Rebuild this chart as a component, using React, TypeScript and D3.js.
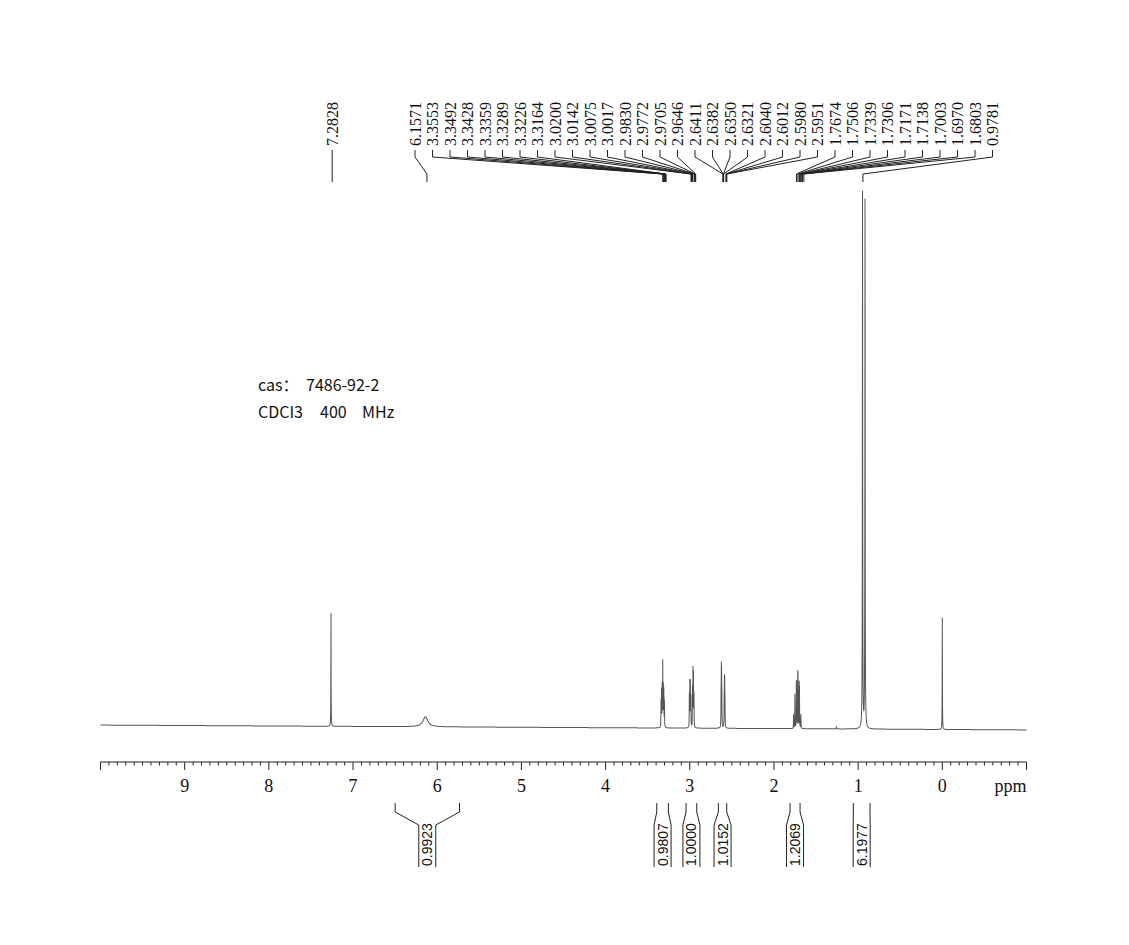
import * as d3 from "d3"

const W = 1129
const H = 945

// lines: position (ppm), height above baseline, half width (ppm)
const tracePpm = [
  7.262, 6.14,
  3.341, 3.335, 3.328, 3.321, 3.314, 3.308, 3.301,
  3.005, 2.999, 2.993, 2.987, 2.968, 2.962, 2.956, 2.95,
  2.628, 2.625, 2.622, 2.619, 2.591, 2.588, 2.585, 2.582,
  1.767, 1.751, 1.734, 1.731, 1.717, 1.714, 1.7, 1.697, 1.68,
  1.26, 0.948, 0.918, 0.0,
]
const traceHeight = [
  113, 10,
  26, 36, 40, 64, 40, 36, 26,
  32, 44, 44, 30, 38, 56, 52, 32,
  30, 50, 46, 26, 24, 40, 38, 22,
  14, 34, 38, 40, 48, 46, 40, 34, 14,
  2, 536, 528, 112,
]
const traceWidth = [
  0.0015, 0.035,
  0.0015, 0.0015, 0.0015, 0.0015, 0.0015, 0.0015, 0.0015,
  0.0015, 0.0015, 0.0015, 0.0015, 0.0015, 0.0015, 0.0015, 0.0015,
  0.0015, 0.0015, 0.0015, 0.0015, 0.0015, 0.0015, 0.0015, 0.0015,
  0.0015, 0.0015, 0.0015, 0.0015, 0.0015, 0.0015, 0.0015, 0.0015, 0.0015,
  0.003, 0.002, 0.002, 0.0015,
]

// peak picking labels
const peakLabels = [
  "7.2828", "6.1571",
  "3.3553", "3.3492", "3.3428", "3.3359", "3.3289", "3.3226", "3.3164",
  "3.0200", "3.0142", "3.0075", "3.0017", "2.9830", "2.9772", "2.9705", "2.9646",
  "2.6411", "2.6382", "2.6350", "2.6321", "2.6040", "2.6012", "2.5980", "2.5951",
  "1.7674", "1.7506", "1.7339", "1.7306", "1.7171", "1.7138", "1.7003", "1.6970", "1.6803",
  "0.9781",
]

// integrals
const integralFrom = [6.5, 3.392, 3.044, 2.66, 1.809, 1.057]
const integralTo = [5.736, 3.254, 2.917, 2.561, 1.69, 0.859]
const integralValues = ["0.9923", "0.9807", "1.0000", "1.0152", "1.2069", "6.1977"]

const axisTicks = [9, 8, 7, 6, 5, 4, 3, 2, 1, 0]

// sample info, word by word
const infoLine1 = ["cas：", "7486-92-2"]
const infoLine2 = ["CDCI3", "400", "MHz"]

const serif = "'Liberation Serif', 'Times New Roman', serif"
const sans = "'Liberation Sans', Arial, sans-serif"
const cjk = "'Noto Sans CJK SC', 'Noto Sans', sans-serif"

export default function App() {
  const x = d3.scaleLinear().domain([10, -1]).range([100.5, 1026.5])
  const y = d3.scaleLinear().domain([0, 540]).range([727.5, 187.5])

  // build the trace from the read lines
  const grid = d3.range(0, 11001).map((i) => 10 - i * 0.001)
  const trace: [number, number][] = grid.map((p) => {
    let s = 0
    for (let k = 0; k < tracePpm.length; k++) {
      const d = p - tracePpm[k]
      const w = traceWidth[k]
      s += (traceHeight[k] * w * w) / (w * w + d * d)
    }
    return [p, s]
  })
  const line = d3
    .line<[number, number]>()
    .x((d) => x(d[0]))
    .y((d) => y(d[1]))

  const cx = (x.range()[0] + x.range()[1]) / 2
  const tilt = `translate(${cx},0) skewY(0.3) translate(${-cx},0)`

  // axis ticks every 0.1 ppm
  const minor = d3.range(-10, 101).map((i) => i / 10)
  const axisY = 762

  // label layout
  const labelShift = 0.035
  const labelStart = 415
  const labelGap = 17.5
  const textBottom = 146

  const info1X = [258, 306]
  const info2X = [258, 320, 362]

  return (
    <svg
      width={W}
      height={H}
      style={{ position: "absolute", left: 0, top: 0, background: "#fff" }}
    >
      <g transform={tilt}>
        <path d={line(trace) || ""} fill="none" stroke="#555" strokeWidth={1} />
      </g>

      {/* axis */}
      <line x1={x(10)} x2={x(-1)} y1={axisY} y2={axisY} stroke="#222" strokeWidth={1.2} />
      {minor.map((t, i) => {
        const major = Math.round(t * 10) % 10 === 0
        return (
          <line
            key={i}
            x1={x(t)}
            x2={x(t)}
            y1={axisY}
            y2={axisY + (major ? 8 : 3.5)}
            stroke="#222"
            strokeWidth={1}
          />
        )
      })}
      {axisTicks.map((t) => (
        <text
          key={t}
          x={x(t)}
          y={792}
          textAnchor="middle"
          fontFamily={serif}
          fontSize={18}
          fill="#111"
        >
          {t}
        </text>
      ))}
      <text x={x(-1)} y={792} textAnchor="end" fontFamily={serif} fontSize={18} fill="#111">
        ppm
      </text>

      {/* peak labels */}
      {peakLabels.map((lab, i) => {
        const px = x(parseFloat(lab) - labelShift)
        const lx = i === 0 ? px : labelStart + (i - 1) * labelGap
        return (
          <g key={i}>
            <text
              transform={`translate(${lx},${textBottom}) rotate(-90)`}
              dy="0.35em"
              fontFamily={serif}
              fontSize={16}
              fill="#111"
            >
              {lab}
            </text>
            <path
              d={`M${lx},150 V157 L${px},174 V182`}
              fill="none"
              stroke="#222"
              strokeWidth={1}
            />
          </g>
        )
      })}

      {/* integrals */}
      {integralValues.map((v, i) => {
        const x1 = x(integralFrom[i])
        const x2 = x(integralTo[i])
        const c = (x1 + x2) / 2
        const half = 8.5
        return (
          <g key={v}>
            <path
              d={`M${x1},803 V812 L${c - half},825 V867 M${x2},803 V812 L${c + half},825 V867`}
              fill="none"
              stroke="#222"
              strokeWidth={1}
            />
            <text
              transform={`translate(${c},866) rotate(-90)`}
              dy="0.36em"
              fontFamily={sans}
              fontSize={14}
              fill="#111"
            >
              {v}
            </text>
          </g>
        )
      })}

      {/* sample info */}
      <text y={391} fontFamily={cjk} fontSize={16} fill="#111">
        {infoLine1.map((s, i) => (
          <tspan key={i} x={info1X[i]}>
            {s}
          </tspan>
        ))}
      </text>
      <text y={418} fontFamily={cjk} fontSize={16} fill="#111">
        {infoLine2.map((s, i) => (
          <tspan key={i} x={info2X[i]}>
            {s}
          </tspan>
        ))}
      </text>
    </svg>
  )
}
